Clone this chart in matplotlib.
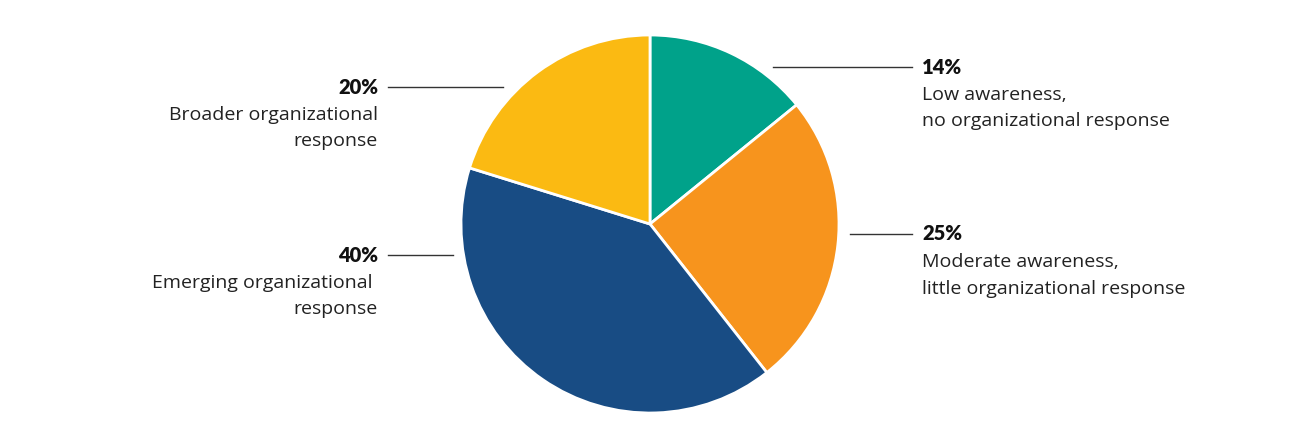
import matplotlib.pyplot as plt

# survey shares, clockwise from 12 o'clock
shares = [14, 25, 40, 20]
pcts = ["14%", "25%", "40%", "20%"]
labels = [
    "Low awareness,\nno organizational response",
    "Moderate awareness,\nlittle organizational response",
    "Emerging organizational \nresponse",
    "Broader organizational\nresponse",
]
colors = ["#00A28A", "#F7941D", "#184C84", "#FBBA12"]

W, H = 1300, 441
fig = plt.figure(figsize=(W / 100, H / 100), dpi=100)
ax = fig.add_axes([0, 0, 1, 1])
ax.axis("off")


def fy(y):
    # pixel row -> data y
    return H - y


ax.pie(shares, colors=colors, startangle=90, counterclock=False,
       center=(650, fy(224)), radius=189,
       wedgeprops=dict(edgecolor="white", linewidth=2))
ax.set_xlim(0, W)
ax.set_ylim(0, H)
ax.set_aspect("auto")

# leader lines: (x0, x1, y, text x, side)
callouts = [
    (773, 912, 67, 922, "left"),
    (850, 912, 234, 922, "left"),
    (388, 453, 255, 378, "right"),
    (388, 503, 87, 378, "right"),
]

body = ["Open Sans", "DejaVu Sans"]
bold = ["Lato", "DejaVu Sans"]
for (x0, x1, y, tx, ha), p, lab in zip(callouts, pcts, labels):
    ax.plot([x0, x1], [fy(y), fy(y)], color="#333333", lw=1)
    ax.text(tx, fy(y), p, ha=ha, va="center", fontsize=14.5,
            fontweight="heavy", family=bold, color="#111111")
    for i, line in enumerate(lab.split("\n")):
        ax.text(tx, fy(y + 28 + 26.5 * i), line, ha=ha, va="center",
                fontsize=14, family=body, color="#222222")

fig.savefig("out.png", dpi=100)
